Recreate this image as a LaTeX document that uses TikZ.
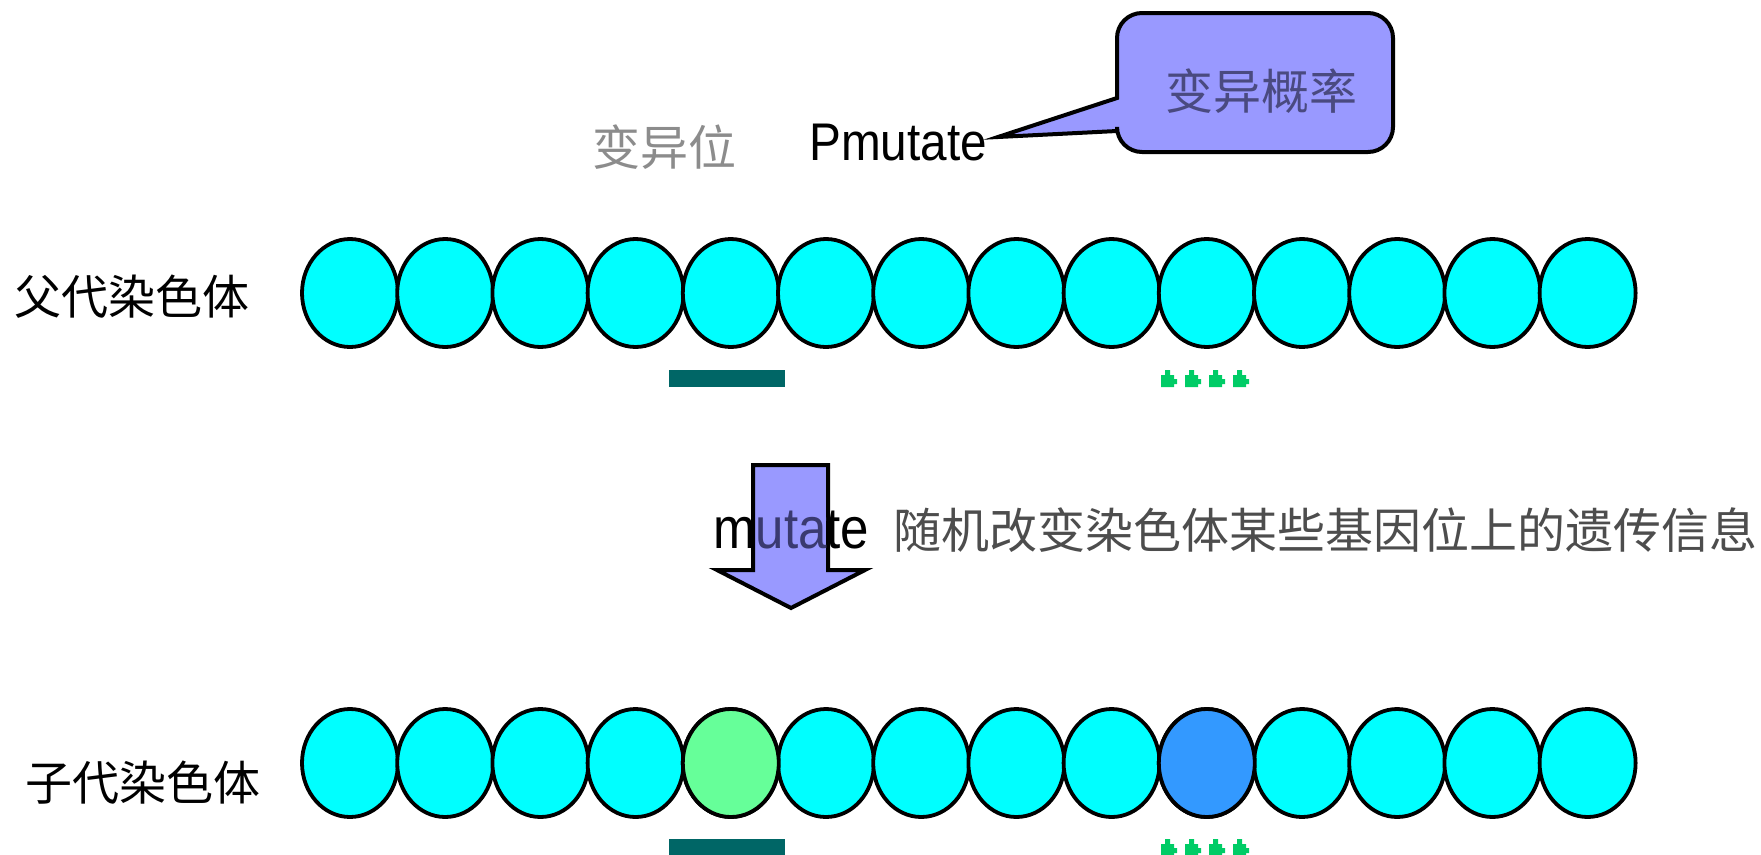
\documentclass[tikz,border=0pt]{standalone}
\usepackage{fontspec}
\setmainfont{Liberation Sans}
\newfontfamily\cjk{Noto Sans CJK SC}
\usetikzlibrary{shapes.geometric}
\definecolor{genecyan}{HTML}{00FFFF}
\definecolor{genegreen}{HTML}{66FF99}
\definecolor{geneblue}{HTML}{3399FF}
\definecolor{callfill}{HTML}{9999FF}
\definecolor{barteal}{HTML}{006666}
\definecolor{arrgreen}{HTML}{00CC66}
\definecolor{txtgray}{HTML}{8C8C8C}
\definecolor{txtdark}{HTML}{4D4D4D}
\definecolor{txtblue}{HTML}{4A4A80}
\definecolor{txtunder}{HTML}{3A3A70}
\tikzset{
  gene/.style={ellipse, draw=black, line width=3.8pt, fill=genecyan,
    minimum width=96pt, minimum height=108pt, inner sep=0pt},
  cjklabel/.style={inner sep=0pt, font=\cjk\fontsize{47}{50}\selectfont},
  latlabel/.style={inner sep=0pt},
  tickbar/.style={fill=barteal, draw=none},
  greenmark/.style={fill=arrgreen, draw=none}
}
\begin{document}
\begin{tikzpicture}[x=1pt,y=-1pt]
\useasboundingbox (0,0) rectangle (1761,854);
% labels
\node[cjklabel, anchor=west] (parentlbl) at (14,297) {父代染色体};
\node[cjklabel, anchor=west] (childlbl) at (25,783) {子代染色体};
\node[cjklabel, anchor=west, text=txtgray, font=\cjk\fontsize{48}{50}\selectfont] (posl) at (592,147) {变异位};
\node[latlabel, anchor=base west] (pm) at (809,160) {\fontsize{53}{55}\selectfont\scalebox{0.9}[1]{Pmutate}};
% callout
\path[fill=callfill, draw=black, line width=4pt]
  (1117,98) [rounded corners=25pt] -- (1117,13) -- (1393,13) -- (1393,152) -- (1117,152)
  [sharp corners] -- (1117,131) -- (998,137) -- cycle;
\node[cjklabel, text=txtblue, font=\cjk\fontsize{48}{50}\selectfont] (prob) at (1261,91) {变异概率};
% parent chromosome
\foreach \i in {0,...,13} {
  \node[gene] (t\i) at ({350+95.2*\i},293) {};
}
% child chromosome
\foreach \i in {0,...,13} {
  \node[gene] (b\i) at ({350+95.2*\i},763) {};
}
\node[gene, fill=genegreen] (b4) at ({350+95.2*4},763) {};
\node[gene, fill=geneblue] (b9) at ({350+95.2*9},763) {};
% bars
\fill[tickbar] (669,370) rectangle (785,387);
\fill[tickbar] (669,839) rectangle (785,856);
% green marks
\foreach \yy in {370,839} {
  \foreach \k in {0,...,3} {
    \fill[greenmark, shift={({1161+24*\k},\yy)}]
      (0,5) -- (4,5) -- (4,0) -- (9,0) -- (9,5) -- (13,5) -- (13,9) -- (16,9)
      -- (16,14) -- (13,14) -- (13,17) -- (0,17) -- cycle;
  }
}
% mutate text and arrow
\node[latlabel, anchor=base west] (mut) at (713,548) {\fontsize{58}{60}\selectfont\scalebox{0.88}[1]{mutate}};
\path[fill=callfill, draw=black, line width=4pt]
  (753,465) -- (828,465) -- (828,570) -- (865,570) -- (791,608) -- (717,570) -- (753,570) -- cycle;
\begin{scope}
  \clip (755,467) rectangle (826,568);
  \node[latlabel, anchor=base west, text=txtunder] (mutover) at (713,548) {\fontsize{58}{60}\selectfont\scalebox{0.88}[1]{mutate}};
\end{scope}
\node[cjklabel, anchor=west, text=txtdark, font=\cjk\fontsize{48}{50}\selectfont] (desc) at (893,530) {随机改变染色体某些基因位上的遗传信息};
\end{tikzpicture}
\end{document}
